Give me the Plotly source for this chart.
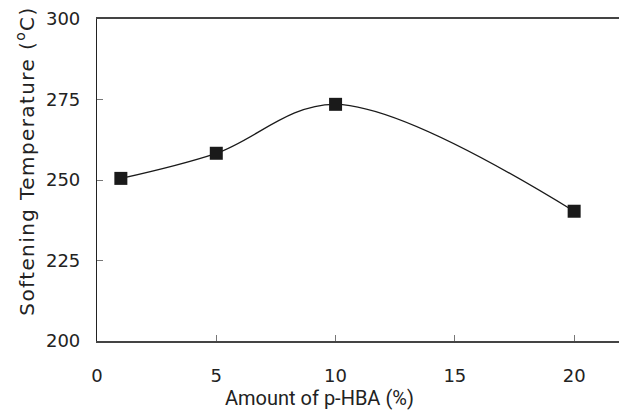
import plotly.graph_objects as go

x_vals = [1, 5, 10, 20]
y_vals = [250.5, 258.3, 273.5, 240.3]
x_ticks = [0, 5, 10, 15, 20]
y_ticks = [200, 225, 250, 275, 300]

fig = go.Figure()
fig.add_trace(go.Scatter(
    x=x_vals, y=y_vals, mode="lines+markers",
    line=dict(color="#1a1a1a", width=1.3, shape="spline", smoothing=1.0),
    marker=dict(symbol="square", size=13, color="#1a1a1a"),
    showlegend=False,
))

fig.update_layout(
    width=619, height=412,
    margin=dict(l=97, r=0, t=19, b=71, autoexpand=False),
    paper_bgcolor="white", plot_bgcolor="white",
    font=dict(family="DejaVu Sans, sans-serif", size=18, color="#222"),
    xaxis=dict(
        range=[0, 21.88], tickvals=x_ticks, ticks="inside", ticklen=6,
        tickcolor="#777", tickwidth=1, showgrid=False, zeroline=False,
        showline=True, linecolor="#444", linewidth=1.5, mirror=True,
        automargin=False,
        tickfont=dict(size=18), ticklabelstandoff=18,
    ),
    yaxis=dict(
        range=[200, 300], tickvals=y_ticks, ticks="inside", ticklen=6,
        tickcolor="#777", tickwidth=1, showgrid=False, zeroline=False,
        showline=True, linecolor="#222", linewidth=1.2,
        automargin=False,
        tickfont=dict(size=18), ticklabelstandoff=12,
    ),
    annotations=[
        dict(text="Amount of p-HBA (%)", xref="paper", yref="paper",
             x=0.427, y=-0.177, xanchor="center", yanchor="middle",
             showarrow=False, font=dict(family="Roboto, sans-serif", size=20, color="#222")),
        dict(text='<span style="letter-spacing:1.4px">Softening Temperature (<sup>o</sup>C)</span>',
             xref="paper", yref="paper", x=-0.138, y=0.56,
             xanchor="center", yanchor="middle", textangle=-90,
             showarrow=False, font=dict(size=20, color="#222")),
    ],
)

fig.write_html("out.html", config={"displayModeBar": False},
               post_script="document.body.style.margin='0';")
